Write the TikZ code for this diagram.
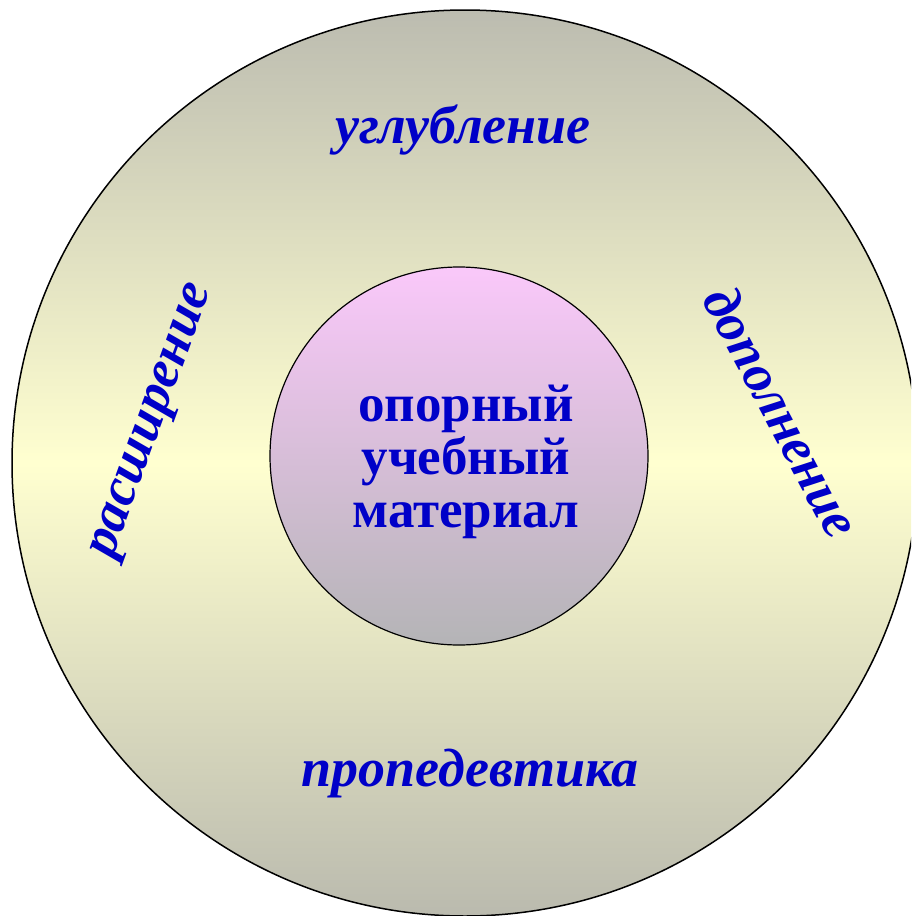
\documentclass[tikz,border=0pt]{standalone}
\usepackage{fontspec}
\setmainfont{Liberation Serif}
\definecolor{txtblue}{RGB}{0,0,200}
\definecolor{outtop}{RGB}{188,188,176}
\definecolor{outmid}{RGB}{255,255,208}
\definecolor{outbot}{RGB}{186,186,174}
\definecolor{intop}{RGB}{250,200,250}
\definecolor{inbot}{RGB}{180,180,182}
\begin{document}
\begin{tikzpicture}[x=1pt,y=-1pt,
  lbl/.style={text=txtblue,font=\fontsize{54}{53}\selectfont\bfseries\itshape,inner sep=0pt},
  ctr/.style={text=txtblue,font=\fontsize{53}{53}\selectfont\bfseries,align=center,inner sep=0pt}]
\useasboundingbox (0,0) rectangle (911,916);
\clip (0,0) rectangle (911,916);
\fill[white] (0,0) rectangle (911,916);
\shade[top color=outtop,bottom color=outbot,middle color=outmid,draw=black,line width=1.5pt]
  (465,463) circle[radius=453];
\node[circle,minimum size=378pt,draw=black,line width=1.2pt,top color=intop,bottom color=inbot,inner sep=0pt] (core) at (459,456) {};
\node[ctr] (c) at (466,462) {опорный\\учебный\\материал};
\node[lbl] (top) at (463,130) {углубление};
\node[lbl] (bot) at (470,774) {пропедевтика};
\node[lbl,rotate=70] (left) at (155,422) {расширение};
\node[lbl,rotate=-62] (right) at (782,412) {дополнение};
\end{tikzpicture}
\end{document}
